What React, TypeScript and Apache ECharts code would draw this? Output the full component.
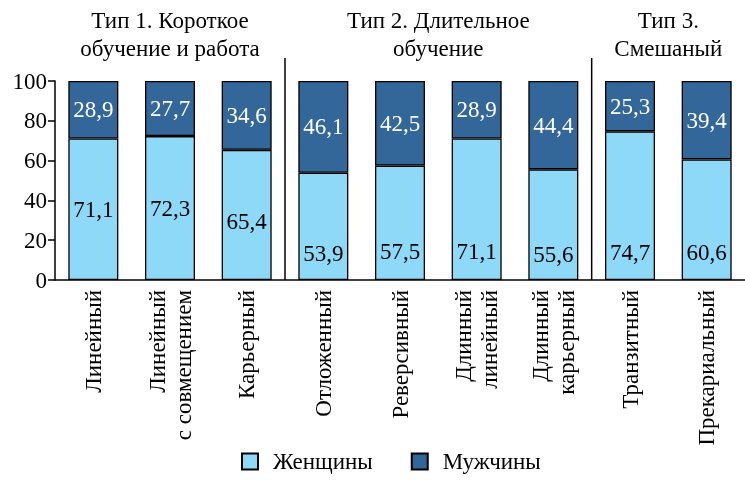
import React, { useEffect, useRef } from "react";
import * as echarts from "echarts";

const categories = [
  "Линейный",
  "Линейный\nс совмещением",
  "Карьерный",
  "Отложенный",
  "Реверсивный",
  "Длинный\nлинейный",
  "Длинный\nкарьерный",
  "Транзитный",
  "Прекариальный",
];
const women = [71.1, 72.3, 65.4, 53.9, 57.5, 71.1, 55.6, 74.7, 60.6];
const men = [28.9, 27.7, 34.6, 46.1, 42.5, 28.9, 44.4, 25.3, 39.4];
const groupTitles = [
  "Тип 1. Короткое\nобучение и работа",
  "Тип 2. Длительное\nобучение",
  "Тип 3.\nСмешаный",
];
const groupStarts = [0, 3, 7];
const groupEnds = [2, 6, 8];
const yTicks = [0, 20, 40, 60, 80, 100];

const FONT = "Times New Roman, Liberation Serif, Tinos, serif";
const WOMEN_COLOR = "#8ed8f8";
const MEN_COLOR = "#336699";

// label placement style for the women's segments
const womenLabelStyle = [
  { position: "inside" },
  { position: "inside" },
  { position: "insideBottom", distance: 47 },
  { position: "insideBottom", distance: 15 },
  { position: "insideBottom", distance: 17 },
  { position: "insideBottom", distance: 17 },
  { position: "insideBottom", distance: 14 },
  { position: "insideBottom", distance: 16 },
  { position: "insideBottom", distance: 16 },
];

const fmt = (v: number) => v.toFixed(1).replace(".", ",");

export default function App() {
  const ref = useRef<HTMLDivElement>(null);
  useEffect(() => {
    if (!ref.current) return;
    const chart = echarts.init(ref.current, null, { renderer: "svg" });
    const option: any = {
      animation: false,
      textStyle: { fontFamily: FONT },
      grid: { left: 55, width: 698, top: 81, height: 199 },
      legend: {
        bottom: 2,
        left: 236,
        icon: "rect",
        itemWidth: 16,
        itemHeight: 16,
        itemGap: 38,
        textStyle: { fontFamily: FONT, fontSize: 23, color: "#000", padding: [0, 0, 0, 10] },
        data: ["Женщины", "Мужчины"],
      },
      xAxis: {
        type: "category",
        data: categories,
        axisLine: { lineStyle: { color: "#000", width: 1.5 } },
        axisTick: { show: false },
        axisLabel: {
          rotate: 90,
          interval: 0,
          margin: 10,
          fontFamily: FONT,
          fontSize: 23,
          lineHeight: 26,
          color: "#000",
          align: "right",
        },
      },
      yAxis: {
        type: "value",
        min: 0,
        max: 100,
        interval: 20,
        axisLine: { show: true, lineStyle: { color: "#000", width: 1.5 } },
        axisTick: { show: true, length: 7, lineStyle: { color: "#000", width: 1.5 } },
        splitLine: { show: false },
        axisLabel: {
          fontFamily: FONT,
          fontSize: 23,
          color: "#000",
          margin: 8,
          formatter: (v: number) => (yTicks.includes(v) ? String(v) : ""),
        },
      },
      series: [
        {
          name: "Женщины",
          type: "bar",
          stack: "t",
          barWidth: 50,
          data: women.map((v, i) => ({
            value: v,
            label: womenLabelStyle[i],
          })),
          itemStyle: { color: WOMEN_COLOR, borderColor: "#000", borderWidth: 1.3 },
          label: {
            show: true,
            fontFamily: FONT,
            fontSize: 23,
            color: "#000",
            formatter: (p: any) => fmt(p.value),
          },
        },
        {
          name: "Мужчины",
          type: "bar",
          stack: "t",
          barWidth: 50,
          data: men,
          itemStyle: { color: MEN_COLOR, borderColor: "#000", borderWidth: 1.3 },
          label: {
            show: true,
            position: "inside",
            fontFamily: FONT,
            fontSize: 23,
            color: "#fff",
            formatter: (p: any) => fmt(p.value),
          },
        },
      ],
    };
    chart.setOption(option);

    const px = (i: number) => chart.convertToPixel({ xAxisIndex: 0 }, categories[i]) as number;
    const step = px(1) - px(0);
    const yTop = chart.convertToPixel({ yAxisIndex: 0 }, 100) as number;
    const yZero = chart.convertToPixel({ yAxisIndex: 0 }, 0) as number;
    const graphics: any[] = [];
    groupTitles.forEach((t, g) => {
      const cx = (px(groupStarts[g]) + px(groupEnds[g])) / 2;
      graphics.push({
        type: "text",
        x: cx,
        y: 6,
        style: {
          text: t,
          fontFamily: FONT,
          fontSize: 23,
          lineHeight: 28,
          fill: "#000",
          align: "center",
          verticalAlign: "top",
        },
      });
    });
    for (let g = 1; g < groupStarts.length; g++) {
      const x = px(groupStarts[g]) - step / 2;
      graphics.push({
        type: "line",
        shape: { x1: x, y1: yTop - 23, x2: x, y2: yZero },
        style: { stroke: "#000", lineWidth: 1.5 },
      });
    }
    chart.setOption({ graphic: graphics });

    return () => chart.dispose();
  }, []);
  return (
    <div
      ref={ref}
      style={{ position: "fixed", left: 0, top: 0, width: 745, height: 480 }}
    />
  );
}
